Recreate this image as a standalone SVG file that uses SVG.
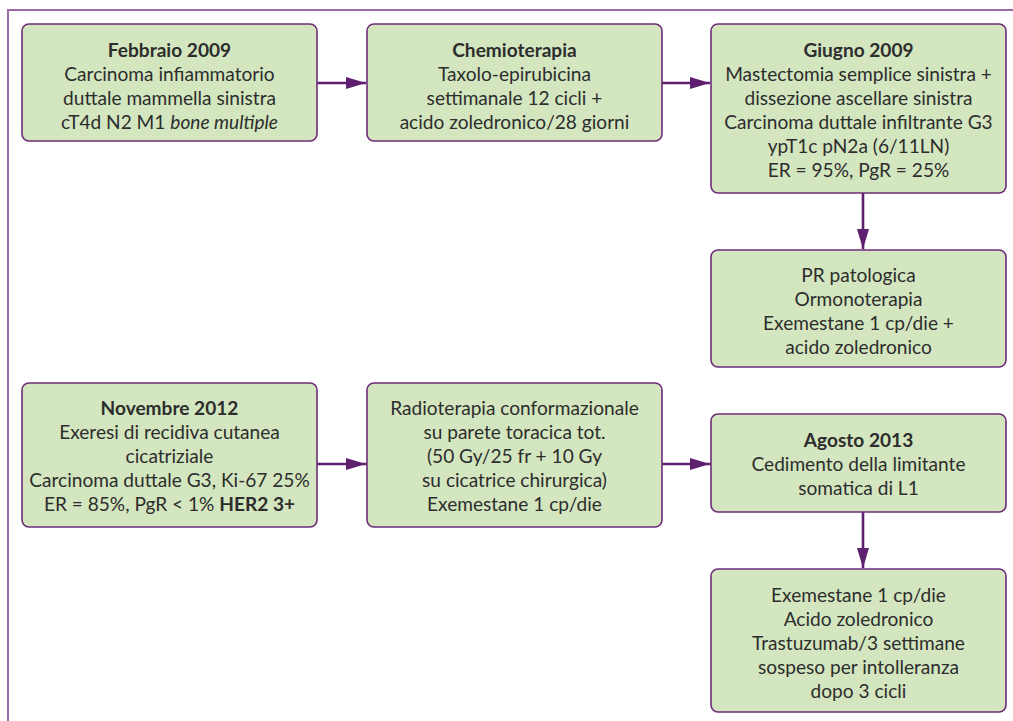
<svg xmlns="http://www.w3.org/2000/svg" width="1013" height="721" viewBox="0 0 1013 721">
<defs>
<style>
.box{fill:#d3e6bf;stroke:#6d2c78;stroke-width:1.6}
.t{font-family:Lato,"Liberation Sans",sans-serif;font-size:19.1px;fill:#2d2d2d;text-anchor:middle}
.b{font-weight:bold}
.con{stroke:#5f1f6f;stroke-width:2.6;fill:none}
</style>
<marker id="ah" markerUnits="userSpaceOnUse" markerWidth="20" markerHeight="12" refX="20" refY="6" orient="auto">
<path d="M0,0 L20,6 L0,12 Z" fill="#5f1f6f"/>
</marker>
</defs>
<rect width="1013" height="721" fill="#ffffff"/>
<path d="M8,721 L8,10 L1013,10" fill="none" stroke="#9c6aa8" stroke-width="2"/>
<g id="connectors">
<line class="con" x1="317" y1="83" x2="366" y2="83" marker-end="url(#ah)"/>
<line class="con" x1="662" y1="83" x2="710" y2="83" marker-end="url(#ah)"/>
<line class="con" x1="863" y1="193" x2="863" y2="249" marker-end="url(#ah)"/>
<line class="con" x1="317" y1="464" x2="366" y2="464" marker-end="url(#ah)"/>
<line class="con" x1="662" y1="464" x2="710" y2="464" marker-end="url(#ah)"/>
<line class="con" x1="863" y1="512" x2="863" y2="568" marker-end="url(#ah)"/>
</g>
<g id="n1">
<rect class="box" x="22" y="24" width="295" height="117" rx="7"/>
<text class="t" x="169.5" y="57"><tspan class="b">Febbraio 2009</tspan><tspan x="169.5" dy="24">Carcinoma infiammatorio</tspan><tspan x="169.5" dy="24">duttale mammella sinistra</tspan><tspan x="169.5" dy="23.5">cT4d N2 M1 <tspan font-style="italic">bone multiple</tspan></tspan></text>
</g>
<g id="n2">
<rect class="box" x="367" y="24" width="295" height="117" rx="7"/>
<text class="t" x="514.5" y="57"><tspan class="b">Chemioterapia</tspan><tspan x="514.5" dy="24">Taxolo-epirubicina</tspan><tspan x="514.5" dy="24">settimanale 12 cicli +</tspan><tspan x="514.5" dy="23.5">acido zoledronico/28 giorni</tspan></text>
</g>
<g id="n3">
<rect class="box" x="711" y="24" width="295" height="169" rx="7"/>
<text class="t" x="858.5" y="57"><tspan class="b">Giugno 2009</tspan><tspan x="858.5" dy="24">Mastectomia semplice sinistra +</tspan><tspan x="858.5" dy="24">dissezione ascellare sinistra</tspan><tspan x="858.5" dy="24">Carcinoma duttale infiltrante G3</tspan><tspan x="858.5" dy="24">ypT1c pN2a (6/11LN)</tspan><tspan x="858.5" dy="24">ER = 95%, PgR = 25%</tspan></text>
</g>
<g id="n4">
<rect class="box" x="711" y="250" width="295" height="117" rx="7"/>
<text class="t" x="858.5" y="282"><tspan>PR patologica</tspan><tspan x="858.5" dy="24">Ormonoterapia</tspan><tspan x="858.5" dy="24">Exemestane 1 cp/die +</tspan><tspan x="858.5" dy="23.5">acido zoledronico</tspan></text>
</g>
<g id="n5">
<rect class="box" x="22" y="383" width="295" height="144" rx="7"/>
<text class="t" x="169.5" y="415"><tspan class="b">Novembre 2012</tspan><tspan x="169.5" dy="24">Exeresi di recidiva cutanea</tspan><tspan x="169.5" dy="24">cicatriziale</tspan><tspan x="169.5" dy="24">Carcinoma duttale G3, Ki-67 25%</tspan><tspan x="169.5" dy="23.5">ER = 85%, PgR &lt; 1% <tspan class="b">HER2 3+</tspan></tspan></text>
</g>
<g id="n6">
<rect class="box" x="367" y="383" width="295" height="144" rx="7"/>
<text class="t" x="514.5" y="415"><tspan>Radioterapia conformazionale</tspan><tspan x="514.5" dy="24">su parete toracica tot.</tspan><tspan x="514.5" dy="24">(50 Gy/25 fr + 10 Gy</tspan><tspan x="514.5" dy="24">su cicatrice chirurgica)</tspan><tspan x="514.5" dy="23.5">Exemestane 1 cp/die</tspan></text>
</g>
<g id="n7">
<rect class="box" x="711" y="414" width="295" height="98" rx="7"/>
<text class="t" x="858.5" y="447"><tspan class="b">Agosto 2013</tspan><tspan x="858.5" dy="23.5">Cedimento della limitante</tspan><tspan x="858.5" dy="24">somatica di L1</tspan></text>
</g>
<g id="n8">
<rect class="box" x="711" y="569" width="295" height="143" rx="7"/>
<text class="t" x="858.5" y="602"><tspan>Exemestane 1 cp/die</tspan><tspan x="858.5" dy="23.5">Acido zoledronico</tspan><tspan x="858.5" dy="24">Trastuzumab/3 settimane</tspan><tspan x="858.5" dy="24">sospeso per intolleranza</tspan><tspan x="858.5" dy="24">dopo 3 cicli</tspan></text>
</g>
</svg>
